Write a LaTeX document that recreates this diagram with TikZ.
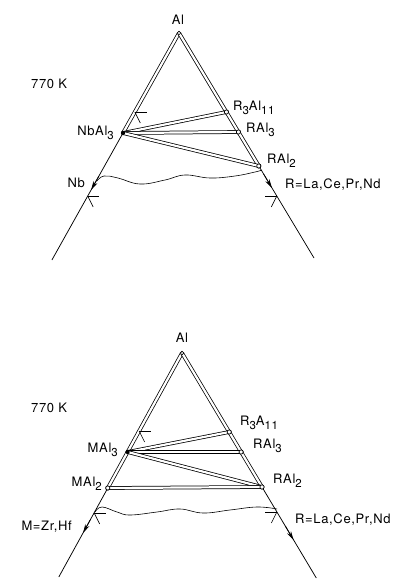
\documentclass[tikz,border=0pt]{standalone}
\usepackage{fontspec}
\setmainfont{TeX Gyre Heros}[LetterSpace=5]
\usetikzlibrary{arrows.meta}
\newcommand\lo[1]{\raisebox{-0.6ex}{\fontsize{11.5}{12}\selectfont #1}}
\begin{document}
\begin{tikzpicture}[x=1pt,y=-1pt,
  band/.style={double, double distance=2.2pt, line width=0.75pt},
  edge/.style={line width=0.75pt},
  lbl/.style={inner sep=0pt, font=\fontsize{13}{15}\selectfont},
  dot/.style={circle, draw, fill=white, inner sep=0pt, minimum size=4.2pt, line width=0.7pt},
  mdot/.style={circle, fill=black, inner sep=0pt, minimum size=4.2pt},
  arr/.style={-{Stealth[length=9pt,width=4.5pt]}, line width=0.75pt},
  tickm/.style={line width=0.6pt},
  wave/.style={line width=0.6pt}]
\useasboundingbox (0,0) rectangle (407,579);
% ================= top diagram =================
\node[dot, minimum size=3.5pt] (A1) at (179,33) {};
\node[mdot] (P1) at (123,133) {};
\node[dot] (Q1) at (226.4,112) {};
\node[dot] (S1) at (238.4,132) {};
\node[dot] (T1) at (258.8,166) {};
\coordinate (L1) at (51.9,260);
\coordinate (R1) at (314,258);
\draw[edge] (P1.center) -- (L1);
\draw[edge] (T1.center) -- (R1);
\draw[band] (A1.center) -- (P1.center);
\draw[band] (A1.center) -- (T1.center);
\draw[band] (P1.center) -- (Q1.center);
\draw[band] (P1.center) -- (S1.center);
\draw[band] (P1.center) -- (T1.center);
\node[dot, minimum size=3.5pt] at (A1) {};
\node[mdot] at (P1) {};
\node[dot] at (Q1) {};
\node[dot] at (S1) {};
\node[dot] at (T1) {};
% arrows
\coordinate (a1s) at (98.9,176); \coordinate (a1e) at (91.1,190);
\coordinate (b1s) at (263.6,174); \coordinate (b1e) at (272,188);
\draw[arr] (a1s) -- (a1e);
\draw[arr] (b1s) -- (b1e);
% tick marks
\coordinate (k1) at (134.8,112);
\draw[tickm] (k1) -- ++(12,0);
\draw[tickm] (k1) -- ++(5.5,11);
\coordinate (k2) at (87.7,196);
\draw[tickm] (k2) -- ++(11.5,0);
\draw[tickm] (k2) -- ++(5.5,11);
\coordinate (k3) at (276.8,196);
\draw[tickm] (k3) -- ++(-11.5,0);
\draw[tickm] (k3) -- ++(-5.5,11);
% wavy line
\draw[wave] plot[smooth, tension=0.7] coordinates {(97,181) (104,176) (118,178) (140,184) (165,180) (185,175) (210,178) (235,176) (255,172) (262,170)};
% labels
\node[lbl, anchor=base] (tAl) at (178,24) {Al};
\node[lbl, anchor=base west] (tT) at (31,88) {770 K};
\node[lbl, anchor=base east] (tNbAl) at (114,135) {NbAl\lo{3}};
\node[lbl, anchor=base west] (tR3) at (233,110) {R\lo{3}Al\lo{11}};
\node[lbl, anchor=base west] (tRAl3) at (246,132) {RAl\lo{3}};
\node[lbl, anchor=base west] (tRAl2) at (267,163) {RAl\lo{2}};
\node[lbl, anchor=base west] (tR) at (285,188) {R=La,Ce,Pr,Nd};
\node[lbl, anchor=base east] (tNb) at (85,187) {Nb};
% ================= bottom diagram =================
\node[dot, minimum size=3.5pt] (A2) at (182,353) {};
\node[mdot] (P2) at (127.6,452) {};
\node[dot] (M2) at (107.8,488) {};
\node[dot] (Q2) at (229.2,432) {};
\node[dot] (S2) at (241.1,452) {};
\node[dot] (T2) at (262,487) {};
\coordinate (L2) at (58.8,577);
\coordinate (R2) at (316.3,578);
\draw[edge] (M2.center) -- (L2);
\draw[edge] (T2.center) -- (R2);
\draw[band] (A2.center) -- (M2.center);
\draw[band] (A2.center) -- (T2.center);
\draw[band] (P2.center) -- (Q2.center);
\draw[band] (P2.center) -- (S2.center);
\draw[band] (P2.center) -- (T2.center);
\draw[band] (M2.center) -- (T2.center);
\node[dot, minimum size=3.5pt] at (A2) {};
\node[mdot] at (P2) {};
\node[dot] at (M2) {};
\node[dot] at (Q2) {};
\node[dot] at (S2) {};
\node[dot] at (T2) {};
% arrows
\coordinate (a2s) at (90.2,520); \coordinate (a2e) at (83,533);
\coordinate (b2s) at (285.3,526); \coordinate (b2e) at (293.6,540);
\draw[arr] (a2s) -- (a2e);
\draw[arr] (b2s) -- (b2e);
% tick marks
\coordinate (k4) at (139.1,431);
\draw[tickm] (k4) -- ++(12,0);
\draw[tickm] (k4) -- ++(5.5,11);
\coordinate (k5) at (94.2,513);
\draw[tickm] (k5) -- ++(11.5,0);
\draw[tickm] (k5) -- ++(5.5,11);
\coordinate (k6) at (276.9,512);
\draw[tickm] (k6) -- ++(-11.5,0);
\draw[tickm] (k6) -- ++(-5.5,11);
% wavy line
\draw[wave] plot[smooth, tension=0.7] coordinates {(95,512) (102,507) (117,512) (130,515) (157,512) (180,509) (203,513) (230,510) (257,507) (277,509)};
% labels
\node[lbl, anchor=base] (bAl) at (182,342) {Al};
\node[lbl, anchor=base west] (bT) at (31,412) {770 K};
\node[lbl, anchor=base east] (bMAl3) at (118,452) {MAl\lo{3}};
\node[lbl, anchor=base east] (bMAl2) at (102,486) {MAl\lo{2}};
\node[lbl, anchor=base west] (bR3) at (240,425) {R\lo{3}A\lo{11}};
\node[lbl, anchor=base west] (bRAl3) at (253,448) {RAl\lo{3}};
\node[lbl, anchor=base west] (bRAl2) at (273,483) {RAl\lo{2}};
\node[lbl, anchor=base west] (bR) at (295,523) {R=La,Ce,Pr,Nd};
\node[lbl, anchor=base east] (bM) at (72,530) {M=Zr,Hf};
\end{tikzpicture}
\end{document}
